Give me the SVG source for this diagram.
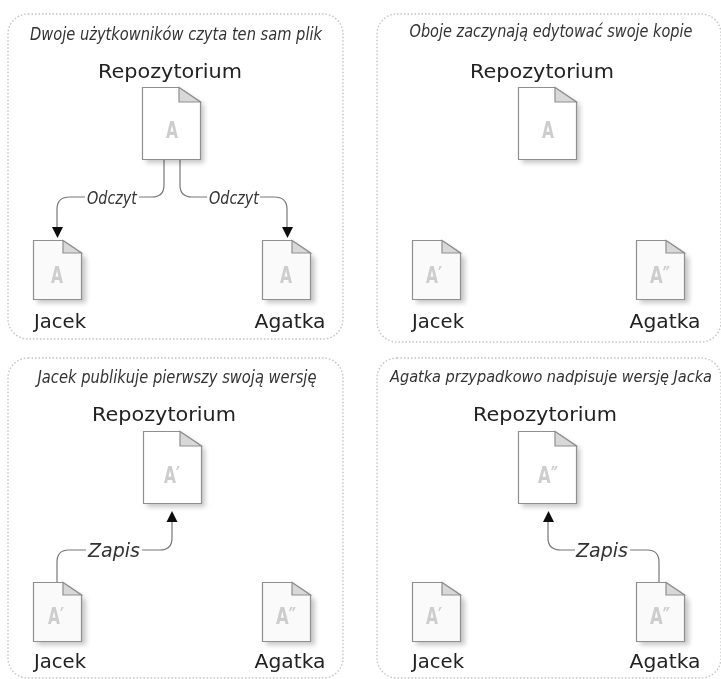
<svg xmlns="http://www.w3.org/2000/svg" width="721" height="679" viewBox="0 0 721 679">
<style>
.panel{fill:#fff;stroke:#c4c4c4;stroke-width:1.4;stroke-dasharray:1.5 2}
.cap{font-family:"DejaVu Sans Condensed","DejaVu Sans",sans-serif;font-style:italic;font-size:17px;fill:#333;text-anchor:middle}
.name{font-family:"DejaVu Sans",sans-serif;font-size:20px;fill:#222;text-anchor:middle}
.lett{font-family:"DejaVu Sans Condensed","DejaVu Sans",sans-serif;font-weight:bold;font-size:23px;fill:#cdcdcd;text-anchor:middle}
.sheet{fill:#fff;stroke:#8f8f8f;stroke-width:1.2}
.fold{fill:#d8d8d8;stroke:#8f8f8f;stroke-width:1.2}
.shadow{fill:#000;opacity:.22}
.conn{fill:none;stroke:#777;stroke-width:1.2}
.lab{font-family:"DejaVu Sans Condensed","DejaVu Sans",sans-serif;font-style:italic;fill:#333;text-anchor:middle}
.head{fill:#111}
</style>
<defs>
<filter id="soft" x="-30%" y="-30%" width="170%" height="170%"><feGaussianBlur stdDeviation="2.5"/></filter>
<filter id="bl" x="-2%" y="-2%" width="104%" height="104%"><feGaussianBlur stdDeviation="0.7"/></filter>
<g id="docL">
<path class="shadow" filter="url(#soft)" d="M4 4H40L62 18V76H4Z"/>
<path class="sheet" d="M0.5 0.5H37L58.5 15V72.500H0.5Z"/>
<path class="fold" d="M37 0.5L58.5 15H37Z"/>
</g>
<g id="docS">
<path class="shadow" filter="url(#soft)" d="M4 4H33L53 18V63H4Z"/>
<path class="sheet" d="M0.5 0.5H30L48.5 13V59.5H0.5Z" style="fill:#fafafa"/>
<path class="fold" d="M30 0.5L48.5 13H30Z"/>
</g>
</defs>
<rect width="721" height="679" fill="#fff"/>
<g filter="url(#bl)">
<g id="panels">
<rect class="panel" x="8" y="14" width="335" height="325" rx="20"/>
<rect class="panel" x="377" y="14" width="344" height="328" rx="20"/>
<rect class="panel" x="8" y="358" width="335" height="320" rx="20"/>
<rect class="panel" x="377" y="358" width="344" height="320" rx="20"/>
</g>
<g id="captions">
<text class="cap" x="176" y="40" textLength="292" lengthAdjust="spacingAndGlyphs">Dwoje użytkowników czyta ten sam plik</text>
<text class="cap" x="551" y="37" textLength="283" lengthAdjust="spacingAndGlyphs">Oboje zaczynają edytować swoje kopie</text>
<text class="cap" x="177" y="383" textLength="279" lengthAdjust="spacingAndGlyphs">Jacek publikuje pierwszy swoją wersję</text>
<text class="cap" x="551" y="382" style="font-size:16px" textLength="322" lengthAdjust="spacingAndGlyphs">Agatka przypadkowo nadpisuje wersję Jacka</text>
</g>
<g id="connectors">
<path class="conn" d="M164 160V185Q164 197 152 197H139M85 197H70Q57 197 57 209V228"/>
<path class="conn" d="M180 160V185Q180 197 192 197H207M260 197H274Q287 197 287 209V228"/>
<path class="conn" d="M57 582V562Q57 550 69 550H86M142 550H160Q172 550 172 538V520"/>
<path class="conn" d="M659 582V562Q659 550 647 550H630M575 550H561Q548 550 548 538V520"/>
<path class="head" d="M52 227H63L57.500 238Z"/>
<path class="head" d="M282 227H293L287.500 238Z"/>
<path class="head" d="M166.500 522H177.500L172 511Z"/>
<path class="head" d="M543 522H554L548.500 511Z"/>
<text class="lab" x="112" y="204" font-size="18" textLength="50" lengthAdjust="spacingAndGlyphs">Odczyt</text>
<text class="lab" x="234" y="204" font-size="18" textLength="50" lengthAdjust="spacingAndGlyphs">Odczyt</text>
<text class="lab" x="114" y="557" font-size="20" textLength="52" lengthAdjust="spacingAndGlyphs">Zapis</text>
<text class="lab" x="602" y="557" font-size="20" textLength="52" lengthAdjust="spacingAndGlyphs">Zapis</text>
</g>
<g id="p1-repo"><text class="name" x="170" y="78" textLength="144" lengthAdjust="spacingAndGlyphs">Repozytorium</text><use href="#docL" x="142" y="87"/><text class="lett" x="172" y="138" textLength="12" lengthAdjust="spacingAndGlyphs">A</text></g>
<g id="p1-jacek"><use href="#docS" x="33" y="240"/><text class="lett" x="57" y="283" textLength="12" lengthAdjust="spacingAndGlyphs">A</text><text class="name" x="60" y="328" textLength="52" lengthAdjust="spacingAndGlyphs">Jacek</text></g>
<g id="p1-agatka"><use href="#docS" x="262" y="240"/><text class="lett" x="286" y="283" textLength="12" lengthAdjust="spacingAndGlyphs">A</text><text class="name" x="290" y="328" textLength="71" lengthAdjust="spacingAndGlyphs">Agatka</text></g>
<g id="p2-repo"><text class="name" x="542" y="78" textLength="144" lengthAdjust="spacingAndGlyphs">Repozytorium</text><use href="#docL" x="518" y="87"/><text class="lett" x="548" y="138" textLength="12" lengthAdjust="spacingAndGlyphs">A</text></g>
<g id="p2-jacek"><use href="#docS" x="412" y="240"/><text class="lett" x="434" y="283" textLength="16" lengthAdjust="spacingAndGlyphs">A′</text><text class="name" x="438" y="328" textLength="52" lengthAdjust="spacingAndGlyphs">Jacek</text></g>
<g id="p2-agatka"><use href="#docS" x="636" y="240"/><text class="lett" x="660" y="283" textLength="20" lengthAdjust="spacingAndGlyphs">A″</text><text class="name" x="665" y="328" textLength="71" lengthAdjust="spacingAndGlyphs">Agatka</text></g>
<g id="p3-repo"><text class="name" x="164" y="421" textLength="144" lengthAdjust="spacingAndGlyphs">Repozytorium</text><use href="#docL" x="143" y="431"/><text class="lett" x="172" y="483" textLength="16" lengthAdjust="spacingAndGlyphs">A′</text></g>
<g id="p3-jacek"><use href="#docS" x="33" y="582"/><text class="lett" x="56" y="624" textLength="16" lengthAdjust="spacingAndGlyphs">A′</text><text class="name" x="60" y="668" textLength="52" lengthAdjust="spacingAndGlyphs">Jacek</text></g>
<g id="p3-agatka"><use href="#docS" x="262" y="582"/><text class="lett" x="286" y="624" textLength="20" lengthAdjust="spacingAndGlyphs">A″</text><text class="name" x="290" y="668" textLength="71" lengthAdjust="spacingAndGlyphs">Agatka</text></g>
<g id="p4-repo"><text class="name" x="545" y="421" textLength="144" lengthAdjust="spacingAndGlyphs">Repozytorium</text><use href="#docL" x="518" y="431"/><text class="lett" x="548" y="483" textLength="20" lengthAdjust="spacingAndGlyphs">A″</text></g>
<g id="p4-jacek"><use href="#docS" x="412" y="582"/><text class="lett" x="434" y="624" textLength="16" lengthAdjust="spacingAndGlyphs">A′</text><text class="name" x="438" y="668" textLength="52" lengthAdjust="spacingAndGlyphs">Jacek</text></g>
<g id="p4-agatka"><use href="#docS" x="636" y="582"/><text class="lett" x="660" y="624" textLength="20" lengthAdjust="spacingAndGlyphs">A″</text><text class="name" x="665" y="668" textLength="71" lengthAdjust="spacingAndGlyphs">Agatka</text></g>
</g>
</svg>
